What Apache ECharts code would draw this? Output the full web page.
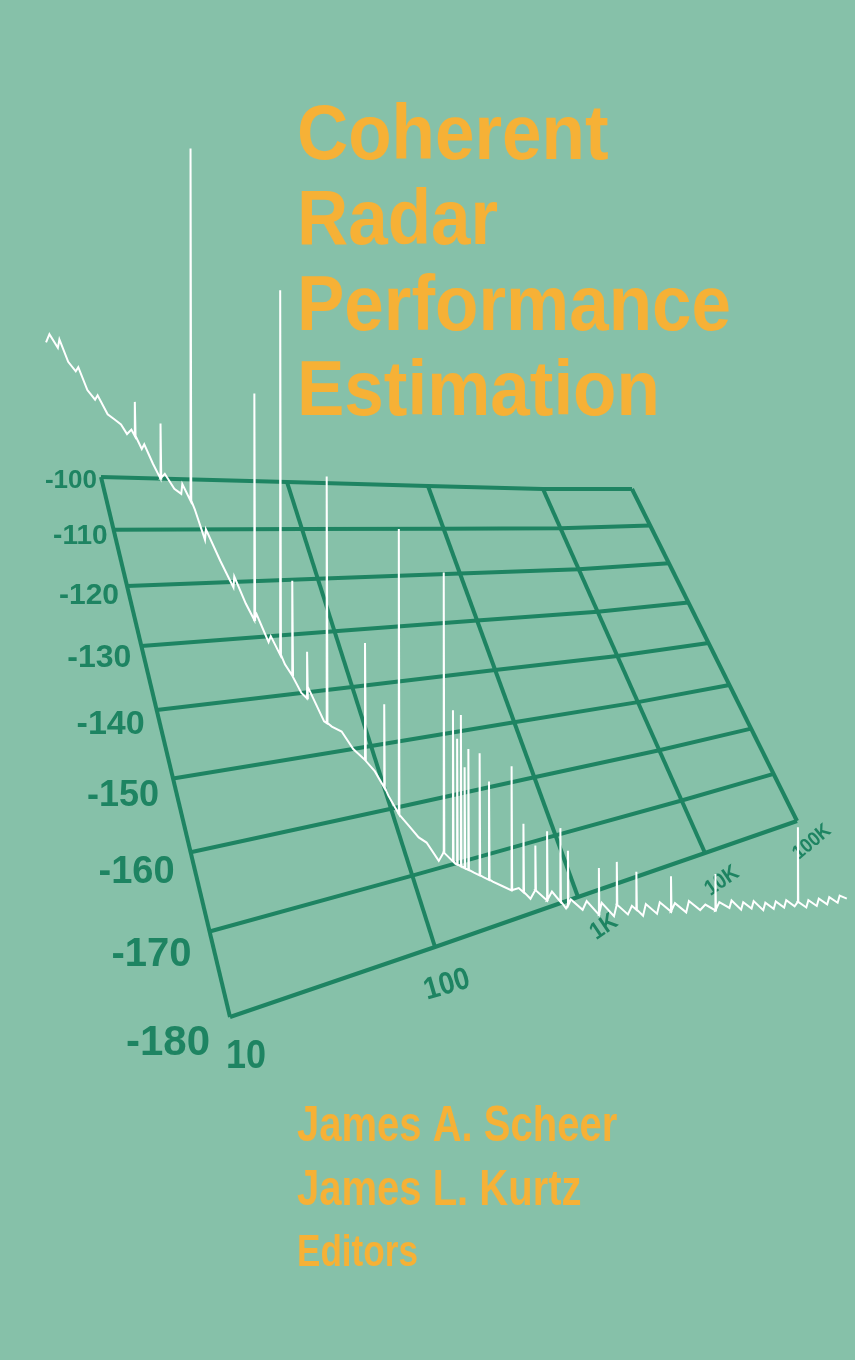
<!DOCTYPE html>
<html><head><meta charset="utf-8">
<script src="https://cdn.jsdelivr.net/npm/echarts@6/dist/echarts.min.js"></script>
<style>html,body{margin:0;padding:0;background:#86C1A9}#c{width:855px;height:1360px}</style>
</head><body><div id="c"></div>
<script>
// ---- data ----
const dbTicks = [-100,-110,-120,-130,-140,-150,-160,-170,-180];
const dbLabels = ['-100','-110','-120','-130','-140','-150','-160','-170','-180'];
const freqTicks = [10,100,1000,10000,100000];
const freqLabels = ['10','100','1K','10K','100K'];
// noise floor: log10(Hz)-1 and dB
const baseU = [-0.13,-0.10,-0.07,-0.05,-0.03,0.00,0.02,0.04,0.07,0.09,0.12,0.15,0.18,0.20,0.23,0.26,0.28,0.30,0.32,0.35,0.38,0.41,0.43,0.46,0.47,0.49,0.52,0.55,0.57,0.59,0.61,0.63,0.65,0.67,0.70,0.72,0.74,0.76,0.78,0.81,0.84,0.88,0.91,0.95,0.98,1.01,1.04,1.08,1.12,1.16,1.20,1.25,1.30,1.35,1.40,1.45,1.50,1.55,1.60,1.65,1.70,1.75,1.80,1.85,1.90,1.95,2.00,2.05,2.10,2.15,2.20,2.25,2.30,2.35,2.40,2.45,2.50,2.55,2.60,2.65,2.70,2.75,2.80,2.85,2.90,2.95,3.00,3.05,3.10,3.15,3.20,3.25,3.30,3.35,3.40,3.45,3.50,3.55,3.60,3.65,3.70,3.75,3.80,3.85,3.90,3.95,4.00,4.05,4.10];
const baseDb = [-72,-70,-73,-71,-76,-78,-77,-82,-84,-83,-87,-88,-89,-91,-90,-94,-93,-97,-100,-99,-102,-103,-101,-106,-112,-110,-116,-121,-119,-124,-127,-126,-131,-130,-135,-137,-140,-141,-139,-145,-146,-147,-150,-152,-154,-158,-161,-163,-165,-166,-169,-168,-170,-171,-172,-173,-174,-175,-176,-176,-178,-177,-179,-178,-181,-180,-182,-181,-183.5,-182,-184.5,-183,-185,-184,-186,-184.5,-186.5,-185,-187,-186,-188,-186.5,-188.5,-188,-189.5,-188.5,-190,-189,-191,-190,-191.5,-190.5,-192.5,-191.5,-193,-192,-193.5,-192.5,-194,-193.5,-195,-194,-195.5,-194.5,-196,-195,-196.5,-195.5,-196.5];
const spikeU = [0.24,0.32,0.45,0.61,0.69,0.72,0.76,0.82,0.95,1.00,1.04,1.25,1.29,1.31,1.33,1.35,1.37,1.43,1.48,1.60,1.67,1.75,1.80,1.88,1.92,2.10,2.25,2.37,2.60,2.90,3.65];
const spikeDb = [-84,-88.5,-16,-81,-55,-120,-133,-99,-132,-143,-110,-119,-145,-150,-146,-155,-152,-153,-158,-156,-166,-170,-168,-168,-172,-176,-176,-178.5,-181,-183,-179];

// ---- perspective plane (style constants: grid line end points and mid heights) ----
const LINES = [[101,477,230,1017,710],[287,482,435,947,687],[428,486,578,897,670],[543,489,705,853,656],[632,489,797,821,643]];
const LP = LINES.map(([x0,y0,x1,y1,ym])=>{const c=(y1+y0-2*ym)/(ym-y1);const a=y1*(c+1)-y0;return {x0,y0,x1,y1,a,c};});
function linePt(k,v){const L=LP[k];const y=(L.a*v+L.y0)/(L.c*v+1);return [L.x0+(y-L.y0)*(L.x1-L.x0)/(L.y1-L.y0),y];}
function proj(u,db){const v=(-100-db)/80;let k=Math.floor(u);k=Math.max(0,Math.min(3,k));const t=u-k;const p=linePt(k,v),q=linePt(k+1,v);return [p[0]+(q[0]-p[0])*t,p[1]+(q[1]-p[1])*t];}
function baseAt(u){for(let i=1;i<baseU.length;i++){if(baseU[i]>=u){const t=(u-baseU[i-1])/(baseU[i]-baseU[i-1]);return baseDb[i-1]+t*(baseDb[i]-baseDb[i-1]);}}return baseDb[baseDb.length-1];}

// merged curve points [u, dB, floorDb]
const pts=[];let si=0;
for(let i=0;i<baseU.length;i++){
  while(si<spikeU.length&&spikeU[si]<=baseU[i]){const u=spikeU[si],b=baseAt(u);pts.push([u,b,b],[u,spikeDb[si],b],[u+0.004,b,b]);si++;}
  pts.push([baseU[i],baseDb[i],baseDb[i]]);
}
const GREEN='#1E8462', ORANGE='#F6B136', FONT='"Liberation Sans", Arial, sans-serif';

const chart=echarts.init(document.getElementById('c'));
chart.setOption({
  backgroundColor:'#86C1A9',
  animation:false,
  grid:{left:0,right:0,top:0,bottom:0},
  xAxis:{type:'value',min:0,max:855,show:false},
  yAxis:{type:'value',min:0,max:1360,inverse:true,show:false},
  series:[
    {type:'custom',name:'dbLines',data:dbTicks.map((d,i)=>[d,i]),renderItem:(p,api)=>{
      const d=api.value(0);const v=(-100-d)/80;
      const points=[0,1,2,3,4].map(u=>api.coord(proj(u,d)));
      const lp=api.coord(proj(0,d));
      return {type:'group',children:[
        {type:'polyline',shape:{points},style:{stroke:GREEN,lineWidth:4,fill:null}},
        {type:'text',x:lp[0]-4-16*v,y:lp[1]+4+22*v,style:{text:dbLabels[api.value(1)],fill:GREEN,font:'bold '+Math.round(26+16*v)+'px '+FONT,align:'right',verticalAlign:'middle'}}
      ]};
    }},
    {type:'custom',name:'freqLines',data:freqTicks.map((f,i)=>[Math.log10(f)-1,i]),renderItem:(p,api)=>{
      const u=api.value(0),i=api.value(1);
      const a=api.coord(proj(u,-100)),b=api.coord(proj(u,-180));
      const off=[[16,40],[12,38],[26,30],[17,28],[15,21]][i];
      const rot=[0,0.28,0.6,0.6,0.7][i];
      const fs=[40,31,24,22,20][i];
      return {type:'group',children:[
        {type:'line',shape:{x1:a[0],y1:a[1],x2:b[0],y2:b[1]},style:{stroke:GREEN,lineWidth:4}},
        {type:'text',x:b[0]+off[0],y:b[1]+off[1],rotation:rot,style:{text:freqLabels[i],fill:GREEN,font:'bold '+fs+'px '+FONT,align:'center',verticalAlign:'middle'},scaleX:0.9}
      ]};
    }},
    {type:'custom',name:'spectrum',data:[[0]],renderItem:(p,api)=>{
      const points=pts.map(([u,d,f])=>{const px=proj(u,f)[0];const py=proj(u,d)[1];return api.coord([px,py]);});
      return {type:'polyline',shape:{points},style:{stroke:'#ffffff',lineWidth:2,fill:null}};
    }}
  ],
  graphic:[
    {type:'text',x:297,y:137,scaleX:0.91,style:{text:'Coherent',fill:ORANGE,font:'bold 78px '+FONT,verticalAlign:'middle'}},
    {type:'text',x:297,y:222,scaleX:0.91,style:{text:'Radar',fill:ORANGE,font:'bold 78px '+FONT,verticalAlign:'middle'}},
    {type:'text',x:297,y:308,scaleX:0.91,style:{text:'Performance',fill:ORANGE,font:'bold 78px '+FONT,verticalAlign:'middle'}},
    {type:'text',x:297,y:393,scaleX:0.91,style:{text:'Estimation',fill:ORANGE,font:'bold 78px '+FONT,verticalAlign:'middle'}},
    {type:'text',x:297,y:1127,scaleX:0.8,style:{text:'James A. Scheer',fill:ORANGE,font:'bold 50px '+FONT,verticalAlign:'middle'}},
    {type:'text',x:297,y:1191,scaleX:0.8,style:{text:'James L. Kurtz',fill:ORANGE,font:'bold 50px '+FONT,verticalAlign:'middle'}},
    {type:'text',x:297,y:1254,scaleX:0.78,style:{text:'Editors',fill:ORANGE,font:'bold 45px '+FONT,verticalAlign:'middle'}}
  ]
});
</script></body></html>
